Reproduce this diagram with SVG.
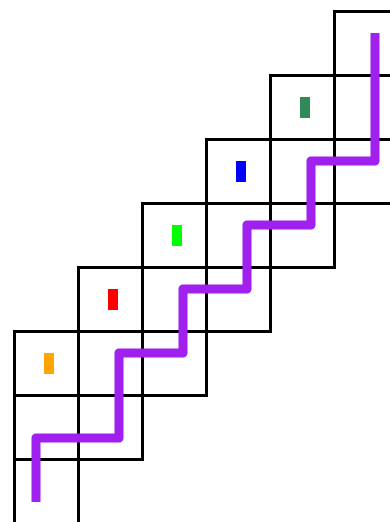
<svg xmlns="http://www.w3.org/2000/svg" width="390" height="522" viewBox="0 0 390 522">
<style>
.g{stroke:#000;stroke-width:3;fill:none;stroke-linecap:square}
.m{stroke:none}
.p{stroke:#A020F0;stroke-width:9;fill:none;stroke-linejoin:round;stroke-linecap:butt}
</style>
<rect width="390" height="522" fill="#fff"/>
<g id="grid" class="g">
<path d="M334.5,11.5H392M270.5,75.5H392M206.5,139.5H392M142.5,203.5H392M78.5,267.5H334.5M14.5,331.5H270.5M14.5,395.5H206.5M14.5,459.5H142.5"/>
<path d="M14.5,331.5V395.5M14.5,398V524M78.5,267.5V524M142.5,203.5V459.5M206.5,139.5V395.5M270.5,75.5V331.5M334.5,11.5V267.5"/>
</g>
<g id="cell-orange"><rect class="m" x="44" y="353" width="10" height="21" fill="#FFA500"/></g>
<g id="cell-red"><rect class="m" x="108" y="289" width="10" height="21" fill="#FF0000"/></g>
<g id="cell-green"><rect class="m" x="172" y="225" width="10" height="21" fill="#00FF00"/></g>
<g id="cell-blue"><rect class="m" x="236" y="161" width="10" height="21" fill="#0000FF"/></g>
<g id="cell-seagreen"><rect class="m" x="300" y="97" width="10" height="21" fill="#2E8B57"/></g>
<g id="connectors">
<path class="p" d="M36,502V438H119V353H183V289H247V225H311V161H375V33"/>
</g>
</svg>
